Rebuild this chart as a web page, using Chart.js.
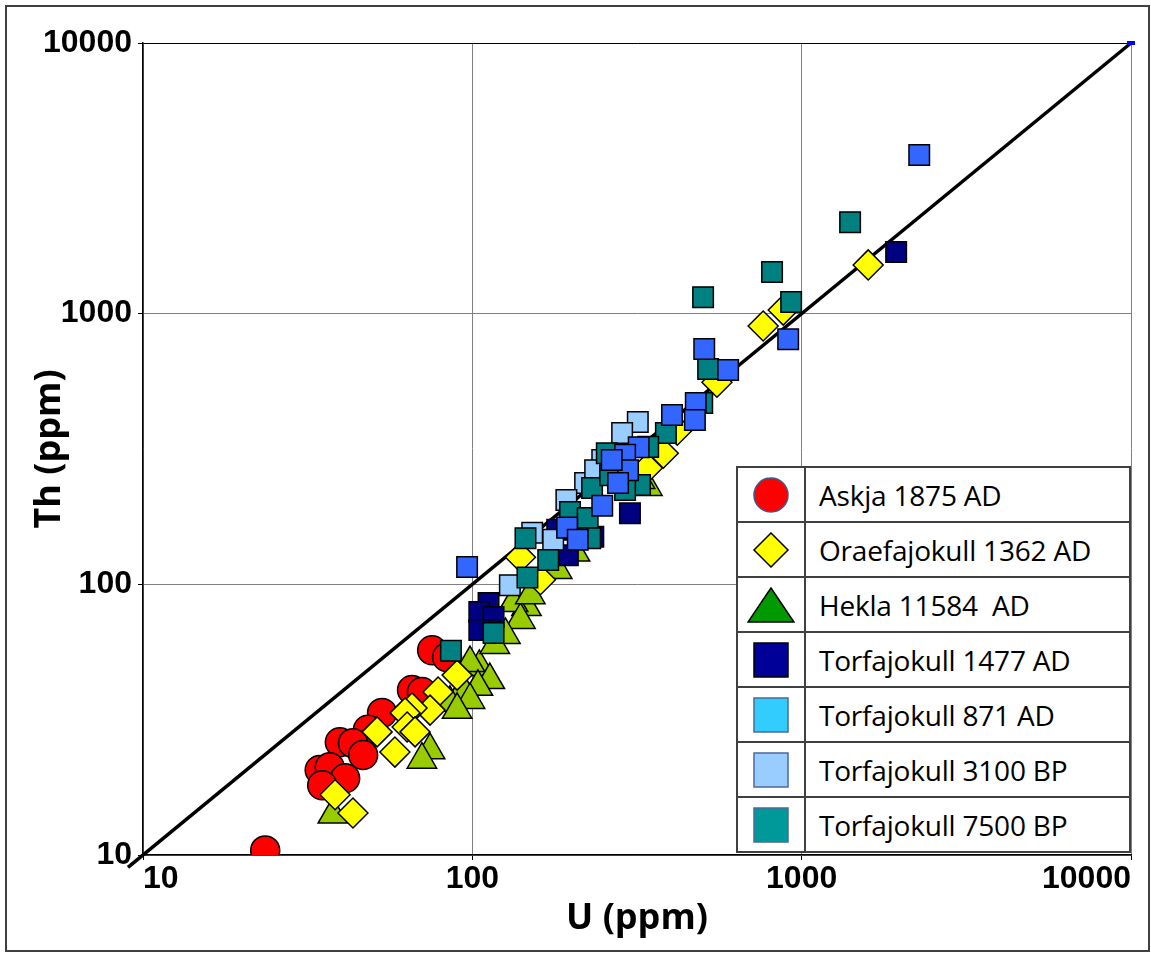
<!DOCTYPE html>
<html>
<head>
<meta charset="utf-8">
<script src="https://cdn.jsdelivr.net/npm/chart.js@4.4.1/dist/chart.umd.min.js"></script>
<style>
body { margin: 0; background: #fff; }
#wrap { position: relative; width: 1151px; height: 954px; }
#frame { position: absolute; left: 5px; top: 5px; width: 1145px; height: 947px; border: 2px solid #404040; box-sizing: border-box; pointer-events: none; }
#legend { position: absolute; left: 736px; top: 466px; width: 395px; height: 385px; border-collapse: collapse; background: #fff; font-family: "Open Sans", sans-serif; font-size: 28px; color: #000; }
#legend td { border: 2px solid #404040; padding: 0; height: 53px; }
#legend td.mk { width: 66px; text-align: center; vertical-align: middle; }
#legend td.mk svg { display: block; margin: 0 auto; }
#legend td.lb { padding-left: 13px; white-space: pre; letter-spacing: -0.2px; }
</style>
</head>
<body>
<div id="wrap">
  <canvas id="mycan1" width="1151" height="954"></canvas>
  <div id="frame"></div>
  <table id="legend"></table>
</div>
<script>
// tick values
var uTicks = [10, 100, 1000, 10000];
var thTicks = [10, 100, 1000, 10000];

// series names (legend)
var seriesNames = ['Askja 1875 AD', 'Oraefajokull 1362 AD', 'Hekla 11584  AD', 'Torfajokull 1477 AD',
                   'Torfajokull 871 AD', 'Torfajokull 3100 BP', 'Torfajokull 7500 BP'];

// values (U, Th in ppm)
var askjaU  = [23.5, 75.5, 83.8, 65.6, 70.3, 53.2, 48.2, 39.6, 43.4, 46.6, 34.4, 36.9, 41.1, 35.0];
var askjaTh = [10.4, 57.1, 53.8, 40.7, 40.0, 33.5, 29.0, 26.1, 25.9, 23.4, 20.6, 21.1, 19.2, 18.1];

var oraeU  = [89.9, 78.7, 74.4, 65.6, 62.5, 63.4, 67.0, 51.4, 58.2, 38.3, 43.4, 1592, 764, 879, 553, 419, 380, 340, 140, 161];
var oraeTh = [46.2, 40.0, 34.3, 34.9, 33.5, 29.7, 28.5, 28.5, 24.0, 16.7, 14.3, 1514, 900, 1031, 558, 371, 305, 269, 126, 104];

var heklaU  = [105, 98.4, 113, 104, 93.7, 98.4, 85.5, 89.9, 74.4, 70.3, 37.7, 181, 146, 133, 140, 126, 117, 205, 340, 323, 150];
var heklaTh = [49.5, 51.2, 44.3, 41.8, 40.7, 37.4, 36.5, 34.4, 24.4, 22.5, 14.1, 113, 82.4, 85.3, 73.9, 65.0, 59.7, 131, 229, 243, 91.2];

var t1477U  = [1936, 301, 233, 195, 181, 112, 105, 116, 113, 105];
var t1477Th = [1691, 183, 150, 128, 159, 85.3, 79, 75.7, 67.8, 67.8];

var t871U  = [2275, 910, 506, 598, 477, 474, 404, 96.4, 320, 291, 297, 277, 248, 194, 209, 265];
var t871Th = [3855, 805, 740, 619, 468, 405, 422, 116, 321, 301, 264, 237, 195, 162, 146, 288];

var t3100U  = [318, 285, 248, 220, 193, 152, 176, 130, 236];
var t3100Th = [398, 362, 288, 237, 205, 155, 146, 99.3, 264];

var t7500U  = [502, 813, 1403, 929, 520, 499, 387, 342, 256, 267, 323, 291, 231, 198, 224, 228, 145, 170, 147, 116, 86.1, 262];
var t7500Th = [1151, 1425, 2178, 1104, 624, 468, 362, 322, 305, 281, 233, 223, 227, 185, 176, 148, 148, 123, 106, 66.1, 56.8, 253];

// 1:1 line
var lineU  = [9, 10000];
var lineTh = [9, 10000];

function pts(xs, ys) {
	var out = [];
	for (var i = 0; i < xs.length; i++) out.push({x: xs[i], y: ys[i]});
	return out;
}

function scatterSet(label, xs, ys, style, color, radius, order) {
	return {
		label: label,
		data: pts(xs, ys),
		showLine: false,
		pointStyle: style,
		pointRadius: radius,
		pointBackgroundColor: color,
		pointBorderColor: '#000',
		pointBorderWidth: 1.5,
		order: order
	};
}

var datasets = [
	{
		label: '1:1',
		data: pts(lineU, lineTh),
		showLine: true,
		borderColor: '#000',
		borderWidth: 3.5,
		pointRadius: [0, 4],
		pointStyle: 'line',
		pointBorderColor: '#0000ff',
		pointBorderWidth: 4,
		clip: false,
		order: 10
	},
	scatterSet(seriesNames[0], askjaU, askjaTh, 'circle', '#ff0000', 14.5, 7),
	scatterSet(seriesNames[2], heklaU, heklaTh, 'triangle', '#99cc00', 17, 6),
	scatterSet(seriesNames[1], oraeU, oraeTh, 'rectRot', '#ffff00', 15, 5),
	scatterSet(seriesNames[3], t1477U, t1477Th, 'rect', '#000080', 14.5, 4),
	scatterSet(seriesNames[5], t3100U, t3100Th, 'rect', '#99ccff', 14.5, 3),
	scatterSet(seriesNames[6], t7500U, t7500Th, 'rect', '#008080', 14.5, 2),
	scatterSet(seriesNames[4], t871U, t871Th, 'rect', '#3366ff', 14.5, 1)
];

var tickFont = {family: '"Liberation Sans", Arial, sans-serif', weight: 'bold', size: 32};
var titleFont = {family: '"Open Sans", sans-serif', weight: 'bold', size: 36};

var ctx = document.getElementById('mycan1');
var chart = new Chart(ctx, {
	type: 'scatter',
	data: {datasets: datasets},
	options: {
		responsive: false,
		animation: false,
		layout: {padding: {left: 0, top: 43, right: 20, bottom: 0}},
		plugins: {legend: {display: false}, tooltip: {enabled: false}},
		scales: {
			x: {
				type: 'logarithmic',
				min: 10,
				max: 10000,
				afterBuildTicks: function(s) { s.ticks = uTicks.map(function(v) { return {value: v}; }); },
				afterFit: function(s) { s.height = 99; },
				ticks: {
					align: 'inner', autoSkip: false, maxRotation: 0, padding: 0,
					font: tickFont, color: '#000',
					callback: function(v) { return String(v); }
				},
				grid: {color: '#808080', lineWidth: 1, tickLength: 5, tickColor: '#000'},
				border: {color: '#000', width: 1.5},
				title: {display: true, text: 'U (ppm)', font: titleFont, color: '#000', padding: {top: 0, bottom: 14}}
			},
			y: {
				type: 'logarithmic',
				min: 10,
				max: 10000,
				afterBuildTicks: function(s) { s.ticks = thTicks.map(function(v) { return {value: v}; }); },
				afterFit: function(s) { s.width = 143; },
				ticks: {
					autoSkip: false, padding: 6,
					font: tickFont, color: '#000',
					callback: function(v) { return String(v); }
				},
				grid: {
					color: function(c) { return c.tick && c.tick.value === 10000 ? '#000' : '#808080'; },
					lineWidth: 1, tickLength: 5, tickColor: '#000'
				},
				border: {color: '#000', width: 1.5},
				title: {display: true, text: 'Th (ppm)', font: titleFont, color: '#000', padding: {top: 28, bottom: 0}}
			}
		}
	}
});

// legend table (legend swatches use their own colours, as in the picture)
var legendColors = ['#ff0000', '#ffff00', '#009900', '#000099', '#33ccff', '#99ccff', '#009999'];
var legendShapes = ['circle', 'diamond', 'triangle', 'square', 'square', 'square', 'square'];
var legendEdges = ['#3d5a8a', '#000', '#000', '#000', '#4a6a9a', '#4a6a9a', '#4a6a9a'];

function swatch(shape, fill, edge) {
	var s = '';
	if (shape === 'circle') s = '<circle cx="24" cy="18" r="17" fill="' + fill + '" stroke="' + edge + '" stroke-width="1.5"/>';
	if (shape === 'diamond') s = '<polygon points="24,1 41,18 24,35 7,18" fill="' + fill + '" stroke="' + edge + '" stroke-width="1.5"/>';
	if (shape === 'triangle') s = '<polygon points="24,1 47,35 1,35" fill="' + fill + '" stroke="' + edge + '" stroke-width="1.5"/>';
	if (shape === 'square') s = '<rect x="7" y="1" width="34" height="34" fill="' + fill + '" stroke="' + edge + '" stroke-width="1.5"/>';
	return '<svg width="48" height="36" viewBox="0 0 48 36">' + s + '</svg>';
}

var html = '';
for (var i = 0; i < seriesNames.length; i++) {
	html += '<tr><td class="mk">' + swatch(legendShapes[i], legendColors[i], legendEdges[i]) +
	        '</td><td class="lb">' + seriesNames[i] + '</td></tr>';
}
document.getElementById('legend').innerHTML = html;
</script>
</body>
</html>
